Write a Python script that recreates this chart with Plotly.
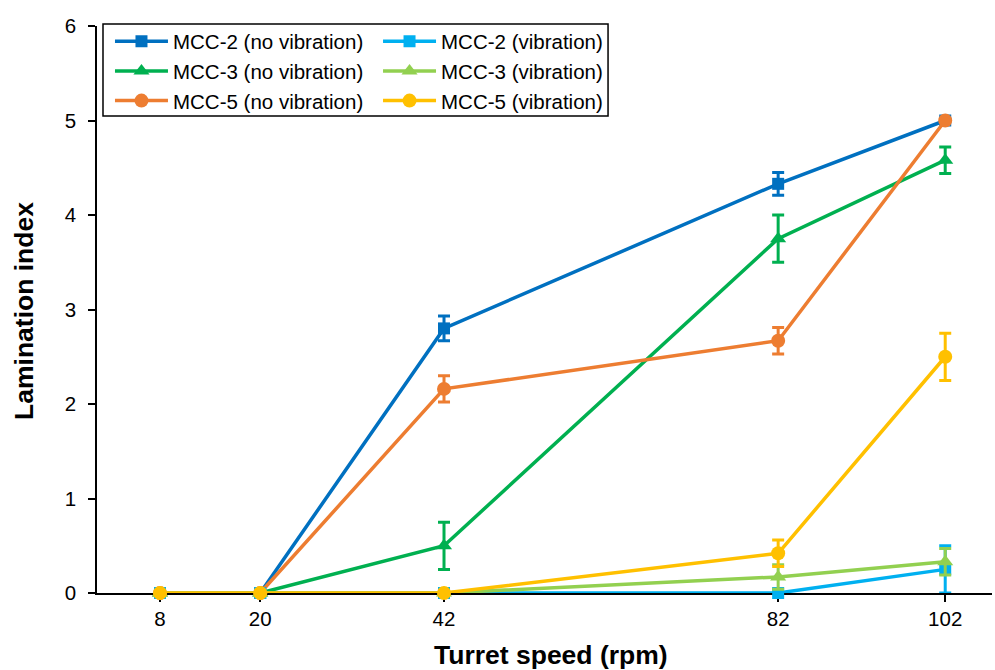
import plotly.graph_objects as go

# Turret speeds (rpm) and lamination index per formulation / condition
speeds = [8, 20, 42, 82, 102]

mcc2_novib = [0, 0, 2.80, 4.33, 5.00]
mcc2_novib_err = [0, 0, 0.13, 0.12, 0]
mcc3_novib = [0, 0, 0.50, 3.75, 4.58]
mcc3_novib_err = [0, 0, 0.25, 0.25, 0.14]
mcc5_novib = [0, 0, 2.16, 2.67, 5.00]
mcc5_novib_err = [0, 0, 0.14, 0.14, 0]

mcc2_vib = [0, 0, 0, 0, 0.25]
mcc2_vib_err = [0, 0, 0, 0, 0.25]
mcc3_vib = [0, 0, 0, 0.17, 0.33]
mcc3_vib_err = [0, 0, 0, 0.13, 0.14]
mcc5_vib = [0, 0, 0, 0.42, 2.50]
mcc5_vib_err = [0, 0, 0, 0.14, 0.25]

x_tick_labels = ["8", "20", "42", "82", "102"]

FONT = "Arial, Liberation Sans, sans-serif"

series = [
    ("MCC-2 (no vibration)", mcc2_novib, mcc2_novib_err, "#0070C0", "square", 12, "legend"),
    ("MCC-3 (no vibration)", mcc3_novib, mcc3_novib_err, "#00B050", "triangle-up", 14, "legend"),
    ("MCC-5 (no vibration)", mcc5_novib, mcc5_novib_err, "#ED7D31", "circle", 14, "legend"),
    ("MCC-2 (vibration)", mcc2_vib, mcc2_vib_err, "#00B0F0", "square", 12, "legend2"),
    ("MCC-3 (vibration)", mcc3_vib, mcc3_vib_err, "#92D050", "triangle-up", 14, "legend2"),
    ("MCC-5 (vibration)", mcc5_vib, mcc5_vib_err, "#FFC000", "circle", 14, "legend2"),
]

fig = go.Figure()
for name, vals, errs, color, symbol, size, leg in series:
    fig.add_trace(go.Scatter(
        x=speeds, y=vals, name=name, mode="lines+markers",
        line=dict(color=color, width=3.5),
        marker=dict(symbol=symbol, size=size, color=color),
        error_y=dict(type="data", array=errs, visible=True,
                     color=color, thickness=3, width=6),
        cliponaxis=False,
        legend=leg,
    ))

legend_common = dict(
    font=dict(family=FONT, size=20.5, color="#000000"),
    bgcolor="rgba(0,0,0,0)",
    borderwidth=0,
    itemwidth=53,
    tracegroupgap=0,
    xanchor="left", yanchor="top",
    orientation="v",
)

axis_common = dict(
    showline=True, linecolor="#000000", linewidth=1.5,
    ticks="outside", ticklen=7, tickwidth=1.5, tickcolor="#000000",
    showgrid=False, zeroline=False,
    tickfont=dict(family=FONT, size=20.5),
    layer="below traces",
)

fig.update_layout(
    width=995, height=670,
    margin=dict(l=97, r=3, t=26, b=77),
    paper_bgcolor="white", plot_bgcolor="white",
    font=dict(family=FONT, size=20, color="#000000"),
    showlegend=True,
    legend=dict(x=0.0145, y=1.008, **legend_common),
    legend2=dict(x=0.314, y=1.008, **legend_common),
    xaxis=dict(
        range=[0.46, 107.6],
        tickmode="array", tickvals=speeds, ticktext=x_tick_labels,
        **axis_common,
    ),
    yaxis=dict(
        range=[0, 6], dtick=1, tick0=0,
        ticklabelstandoff=8,
        **axis_common,
    ),
    annotations=[
        dict(text="<b>Turret speed (rpm)</b>", xref="paper", yref="paper",
             x=0.507, y=-0.1093, xanchor="center", yanchor="middle",
             showarrow=False, font=dict(family=FONT, size=26.5)),
        dict(text="<b>Lamination index</b>", xref="paper", yref="paper",
             x=-0.0816, y=0.4974, xanchor="center", yanchor="middle",
             textangle=-90, showarrow=False,
             font=dict(family=FONT, size=26.5)),
    ],
    shapes=[dict(
        type="rect", xref="paper", yref="paper",
        x0=0.0067, x1=0.571, y0=0.8413, y1=1.0035,
        line=dict(color="#000000", width=1.5),
        fillcolor="rgba(0,0,0,0)", layer="above",
    )],
)

fig.write_html("out.html")
